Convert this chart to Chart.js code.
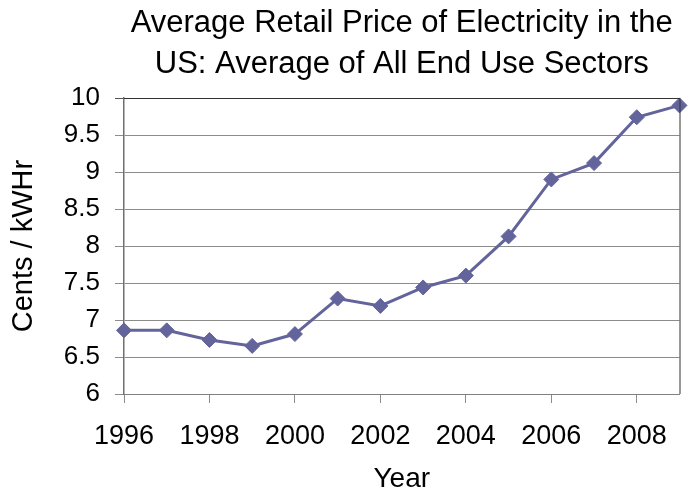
<!DOCTYPE html>
<html>
<head>
<meta charset="utf-8">
<script src="https://cdn.jsdelivr.net/npm/chart.js@4.4.1/dist/chart.umd.min.js"></script>
<style>
  html, body { margin: 0; padding: 0; background: #ffffff; }
  #wrap { width: 688px; height: 491px; }
</style>
</head>
<body>
<div id="wrap"><canvas id="c" width="688" height="491"></canvas></div>
<script>
const titleLines = ['Average Retail Price of Electricity in the', 'US: Average of All End Use Sectors'];
const xTitle = 'Year';
const yTitle = 'Cents / kWHr';
const years = [1996, 1997, 1998, 1999, 2000, 2001, 2002, 2003, 2004, 2005, 2006, 2007, 2008, 2009];
const prices = [6.86, 6.86, 6.73, 6.65, 6.81, 7.29, 7.19, 7.44, 7.60, 8.13, 8.90, 9.12, 9.74, 9.90];
const yMin = 6, yMax = 10, yStep = 0.5;
const xMin = 1996, xMax = 2009, xStep = 2;

const FONT = "'Liberation Sans', Arial, Helvetica, sans-serif";
const lineColor = '#64649c';

const framePlugin = {
  id: 'frame',
  afterDatasetsDraw(chart) {
    const {ctx, chartArea: a} = chart;
    ctx.save();
    ctx.strokeStyle = '#333333';
    ctx.lineWidth = 1;
    ctx.beginPath();
    ctx.moveTo(a.left, a.top + 0.5);
    ctx.lineTo(a.right + 0.5, a.top + 0.5);
    ctx.lineTo(a.right + 0.5, a.bottom);
    ctx.stroke();
    ctx.restore();
  }
};

const data = years.map((y, i) => ({x: y, y: prices[i]}));

new Chart(document.getElementById('c'), {
  type: 'line',
  data: {
    datasets: [{
      data: data,
      borderColor: lineColor,
      backgroundColor: lineColor,
      borderWidth: 3,
      pointStyle: 'rectRot',
      pointRadius: 7.5,
      pointHoverRadius: 7.5,
      pointBorderWidth: 1,
      pointBackgroundColor: lineColor,
      pointBorderColor: lineColor,
      tension: 0,
      clip: false
    }]
  },
  options: {
    responsive: false,
    animation: false,
    events: [],
    layout: { padding: { left: 0, right: 8, top: 0, bottom: 0 } },
    plugins: {
      legend: { display: false },
      tooltip: { enabled: false },
      title: {
        display: true,
        text: titleLines,
        fullSize: false,
        color: '#000000',
        font: { family: FONT, size: 31, weight: 'normal', lineHeight: '41px' },
        padding: { top: 3, bottom: 13 }
      }
    },
    scales: {
      x: {
        type: 'linear',
        min: xMin,
        max: xMax,
        afterFit(s) { s.height = 97; },
        ticks: {
          stepSize: xStep,
          includeBounds: false,
          autoSkip: false,
          maxRotation: 0,
          color: '#000000',
          padding: 17,
          font: { family: FONT, size: 27 },
          callback: (v) => String(v)
        },
        grid: {
          drawOnChartArea: false,
          drawTicks: true,
          tickLength: 9,
          color: '#8c8c8c'
        },
        border: { display: true, color: '#808080', width: 1 },
        title: {
          display: true,
          text: xTitle,
          color: '#000000',
          font: { family: FONT, size: 28, lineHeight: '23px' },
          padding: { top: 0, bottom: 0 }
        }
      },
      y: {
        min: yMin,
        max: yMax,
        afterFit(s) { s.width = 124; },
        ticks: {
          stepSize: yStep,
          color: '#000000',
          padding: 15,
          font: { family: FONT, size: 26 },
          callback: (v) => String(v)
        },
        grid: {
          tickLength: 9,
          color: (ctx) => (ctx.tick && ctx.tick.value === yMax) ? '#555555' : '#8c8c8c',
          lineWidth: 1
        },
        border: { display: true, color: '#707070', width: 1.5 },
        title: {
          display: true,
          text: yTitle,
          color: '#000000',
          font: { family: FONT, size: 29, lineHeight: '36px' },
          padding: { top: 6, bottom: 0 }
        }
      }
    }
  },
  plugins: [framePlugin]
});
</script>
</body>
</html>
